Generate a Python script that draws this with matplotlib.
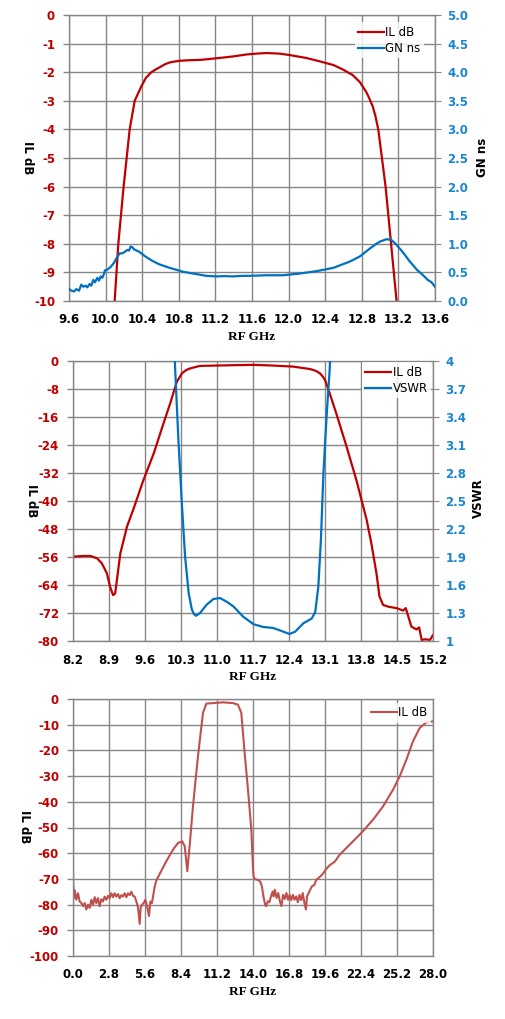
import matplotlib
matplotlib.use("Agg")
import matplotlib.pyplot as plt

# ---------------- data: chart 1 (IL dB and GN ns) ----------------
f1_il = [10.08, 10.099, 10.139, 10.197, 10.263, 10.318, 10.39, 10.44, 10.50, 10.55, 10.59,
         10.65, 10.70, 10.75, 10.81, 10.92, 11.03, 11.10, 11.25, 11.39, 11.54, 11.65,
         11.76, 11.90, 12.01, 12.19, 12.34, 12.49, 12.59, 12.70, 12.78, 12.85, 12.88,
         12.92, 12.95, 12.98, 13.02, 13.06, 13.09, 13.12, 13.15, 13.18, 13.20]
il1 = [-10.6, -10.0, -8.0, -6.0, -4.0, -3.0, -2.5, -2.2, -2.0, -1.9, -1.83,
       -1.72, -1.66, -1.63, -1.6, -1.58, -1.57, -1.55, -1.5, -1.45, -1.38, -1.35,
       -1.33, -1.35, -1.4, -1.5, -1.62, -1.75, -1.9, -2.1, -2.35, -2.7, -2.9,
       -3.2, -3.55, -4.0, -5.0, -6.0, -7.0, -8.0, -9.0, -10.0, -10.6]
f1_gn = [9.600, 9.629, 9.655, 9.680, 9.709, 9.735, 9.757, 9.782, 9.800, 9.826, 9.844,
         9.866, 9.884, 9.910, 9.928, 9.946, 9.964, 9.983, 9.993, 10.019, 10.055, 10.092,
         10.128, 10.154, 10.183, 10.212, 10.238, 10.256, 10.274, 10.292, 10.310, 10.365,
         10.438, 10.511, 10.584, 10.693, 10.85, 11.03, 11.10, 11.21, 11.30, 11.39, 11.50,
         11.57, 11.76, 11.94, 12.12, 12.30, 12.49, 12.67, 12.78, 12.89, 12.95, 13.00,
         13.07, 13.12, 13.17, 13.25, 13.32, 13.40, 13.47, 13.52, 13.56, 13.60]
gn1 = [0.208, 0.179, 0.167, 0.208, 0.179, 0.286, 0.250, 0.268, 0.238, 0.298, 0.268,
       0.369, 0.327, 0.405, 0.357, 0.429, 0.405, 0.476, 0.536, 0.548, 0.595, 0.667,
       0.774, 0.833, 0.833, 0.863, 0.893, 0.881, 0.952, 0.940, 0.905, 0.863,
       0.774, 0.702, 0.643, 0.583, 0.51, 0.46, 0.44, 0.43, 0.435, 0.43, 0.44,
       0.44, 0.45, 0.45, 0.48, 0.52, 0.58, 0.69, 0.78, 0.92, 0.99, 1.04,
       1.08, 1.07, 1.00, 0.85, 0.70, 0.55, 0.45, 0.37, 0.33, 0.25]
x1_ticks = [9.6, 10.0, 10.4, 10.8, 11.2, 11.6, 12.0, 12.4, 12.8, 13.2, 13.6]
y1_ticks = [0, -1, -2, -3, -4, -5, -6, -7, -8, -9, -10]
y1r_ticks = [0.0, 0.5, 1.0, 1.5, 2.0, 2.5, 3.0, 3.5, 4.0, 4.5, 5.0]

# ---------------- data: chart 2 (IL dB and VSWR) ----------------
f2_il = [8.2, 8.41, 8.54, 8.67, 8.76, 8.86, 8.92, 8.98, 9.02, 9.12, 9.25, 9.38, 9.57,
         9.77, 9.96, 10.09, 10.22, 10.32, 10.40, 10.48, 10.67, 11.32, 11.71, 12.09, 12.48,
         12.81, 12.92, 13.0, 13.05, 13.1, 13.19, 13.32, 13.52, 13.71, 13.91, 14.0, 14.1,
         14.16, 14.23, 14.33, 14.49, 14.62, 14.67, 14.72, 14.78, 14.88, 14.93, 14.98,
         15.05, 15.14, 15.2]
il2 = [-55.9, -55.7, -55.7, -56.4, -57.8, -60.7, -64.5, -66.9, -66.4, -55.0, -47.3,
       -42.1, -34.0, -26.4, -17.8, -12.1, -5.9, -3.5, -2.6, -2.1, -1.4, -1.2, -1.1,
       -1.3, -1.6, -2.3, -2.8, -3.5, -4.3, -5.4, -9.2, -15.0, -24.5, -34.0, -45.4,
       -52.0, -60.6, -67.3, -69.7, -70.2, -70.6, -71.3, -70.6, -73.0, -75.9, -76.7,
       -76.1, -79.7, -79.5, -79.7, -78.3]
f2_vs = [10.16, 10.19, 10.25, 10.32, 10.38, 10.45, 10.51, 10.55, 10.59, 10.67, 10.80,
         10.93, 11.06, 11.19, 11.32, 11.51, 11.71, 11.90, 12.09, 12.29, 12.41, 12.52,
         12.68, 12.84, 12.91, 12.97, 13.02, 13.07, 13.13, 13.19, 13.22]
vswr2 = [4.3, 3.87, 3.15, 2.44, 1.90, 1.51, 1.34, 1.29, 1.27, 1.30, 1.39,
         1.45, 1.46, 1.42, 1.37, 1.26, 1.18, 1.15, 1.14, 1.10, 1.075, 1.10,
         1.19, 1.24, 1.31, 1.58, 2.08, 2.80, 3.40, 3.90, 4.3]
x2_ticks = [8.2, 8.9, 9.6, 10.3, 11.0, 11.7, 12.4, 13.1, 13.8, 14.5, 15.2]
y2_ticks = [0, -8, -16, -24, -32, -40, -48, -56, -64, -72, -80]
y2r_ticks = [1, 1.3, 1.6, 1.9, 2.2, 2.5, 2.8, 3.1, 3.4, 3.7, 4]
y2r_labels = ["1", "1.3", "1.6", "1.9", "2.2", "2.5", "2.8", "3.1", "3.4", "3.7", "4"]

# ---------------- data: chart 3 (wideband IL dB) ----------------
f3 = [0.00, 0.05, 0.13, 0.26, 0.39, 0.52, 0.65, 0.78, 0.91, 1.04, 1.17, 1.30, 1.43,
      1.56, 1.69, 1.81, 1.94, 2.07, 2.20, 2.33, 2.46, 2.59, 2.72, 2.85, 2.98, 3.11,
      3.24, 3.37, 3.50, 3.63, 3.76, 3.89, 4.02, 4.15, 4.28, 4.41, 4.54, 4.67, 4.80,
      4.93, 5.06, 5.19, 5.26, 5.37, 5.50, 5.63, 5.76, 5.91, 6.02, 6.14, 6.22, 6.35,
      6.48, 6.61, 6.74, 7.00, 7.26, 7.78, 8.17, 8.50, 8.69, 8.89, 9.07, 9.33, 9.72,
      10.11, 10.37, 10.89, 11.67, 12.44, 12.83, 13.09, 13.35, 13.61, 13.87, 13.95,
      14.00, 14.05, 14.13, 14.38, 14.56, 14.69, 14.81, 14.94, 15.02, 15.15, 15.27,
      15.40, 15.53, 15.60, 15.70, 15.83, 15.96, 16.09, 16.21, 16.34, 16.47, 16.60,
      16.72, 16.85, 16.98, 17.10, 17.23, 17.36, 17.49, 17.61, 17.74, 17.87, 18.00,
      18.12, 18.20, 18.33, 18.45, 18.58, 18.78, 18.91, 19.09, 19.29, 19.47, 19.73,
      19.98, 20.36, 20.74, 21.52, 22.43, 23.33, 24.11, 24.89, 25.41, 25.93, 26.44,
      26.96, 27.48, 28.0]
il3 = [-68.1, -77.5, -74.4, -78.1, -75.6, -78.8, -79.4, -80.6, -79.4, -81.9, -80.0,
       -81.3, -78.1, -80.0, -77.1, -79.4, -77.5, -80.6, -77.9, -78.8, -76.9, -78.1,
       -76.6, -77.5, -75.6, -77.1, -75.6, -76.9, -75.9, -77.5, -76.3, -76.9, -75.6,
       -77.1, -75.6, -76.3, -75.0, -76.6, -76.9, -78.8, -81.3, -87.5, -81.3, -80.0,
       -79.4, -78.1, -80.6, -84.4, -78.8, -79.4, -76.9, -73.1, -70.6, -69.4, -68.1,
       -65.6, -63.1, -58.6, -56.0, -55.4, -57.3, -67.0, -57.3, -41.8, -22.3, -5.4,
       -1.8, -1.6, -1.3, -1.6, -2.2, -5.4, -21.0, -35.3, -50.8, -60.0, -66.0, -69.1,
       -70.1, -70.4, -71.0, -72.9, -76.8, -80.0, -80.6, -78.7, -79.1, -76.8, -74.9,
       -76.8, -74.2, -77.4, -75.5, -78.7, -80.6, -76.2, -77.8, -75.5, -78.1, -76.2,
       -78.3, -76.2, -78.1, -76.8, -79.1, -76.2, -78.3, -75.5, -79.4, -81.9, -76.8,
       -75.5, -74.2, -72.9, -72.3, -70.4, -69.7, -68.8, -67.8, -65.9, -64.6, -63.3,
       -60.6, -56.7, -52.1, -47.0, -41.8, -35.3, -30.1, -23.6, -16.5, -11.3, -9.1,
       -8.7]
x3_ticks = [0.0, 2.8, 5.6, 8.4, 11.2, 14.0, 16.8, 19.6, 22.4, 25.2, 28.0]
y3_ticks = [0, -10, -20, -30, -40, -50, -60, -70, -80, -90, -100]

# ---------------- style ----------------
RED = "#C00000"
BLUE = "#0070C0"
TICKBLUE = "#1A86D0"
RED3 = "#C0504D"
GRID = "#868686"
W, H = 505, 1019

fig = plt.figure(figsize=(W / 100, H / 100), dpi=100)
fig.patch.set_facecolor("white")


def box(l, t, r, b):
    return [l / W, 1 - b / H, (r - l) / W, (b - t) / H]


def fig_label(text, x, y, rot):
    fig.text(x / W, 1 - y / H, text, rotation=rot, ha="center", va="center",
             fontsize=8.5, fontweight="bold", color="black")


def style_axes(ax, xticks, xlim, yticks, ylim):
    ax.set_xlim(*xlim)
    ax.set_ylim(*ylim)
    ax.set_xticks(xticks)
    ax.set_xticklabels([f"{v:.1f}" for v in xticks])
    ax.set_yticks(yticks)
    ax.set_yticklabels([str(v) for v in yticks])
    ax.grid(True, color=GRID, linewidth=1.0)
    ax.set_axisbelow(True)
    for s in ax.spines.values():
        s.set_color(GRID)
        s.set_linewidth(1.0)
    ax.tick_params(axis="x", length=0, pad=9, labelsize=8.5, colors="black")
    ax.tick_params(axis="y", length=4, width=1, color=GRID, pad=6,
                   labelsize=8.5, labelcolor=RED)
    for lab in ax.get_xticklabels() + ax.get_yticklabels():
        lab.set_fontweight("bold")
    ax.set_xlabel("RF GHz", fontsize=9.5, fontweight="bold",
                  family="Liberation Serif", labelpad=3)


def style_right(ax, ticks, labels, ylim):
    ax.set_ylim(*ylim)
    ax.set_yticks(ticks)
    ax.set_yticklabels(labels)
    ax.tick_params(axis="y", length=4, color=GRID, labelsize=8.5,
                   labelcolor=TICKBLUE, pad=5)
    for lab in ax.get_yticklabels():
        lab.set_fontweight("bold")
    for s in ax.spines.values():
        s.set_visible(False)


def legend(ax, handles, anchor):
    lg = ax.legend(handles=handles, loc="upper right", bbox_to_anchor=anchor,
                   frameon=True, fontsize=8.5, handlelength=2.2, handletextpad=0.1,
                   borderpad=0.3, labelspacing=0.25, fancybox=False, borderaxespad=0)
    lg.get_frame().set_edgecolor("white")
    lg.get_frame().set_linewidth(0)
    return lg


# ---------- chart 1 ----------
ax1 = fig.add_axes(box(69, 15, 435, 301))
l1, = ax1.plot(f1_il, il1, color=RED, linewidth=1.6, label="IL dB")
style_axes(ax1, x1_ticks, (9.6, 13.6), y1_ticks, (-10, 0))
ax1r = ax1.twinx()
l2, = ax1r.plot(f1_gn, gn1, color=BLUE, linewidth=1.6, label="GN ns")
style_right(ax1r, y1r_ticks, [f"{v:.1f}" for v in y1r_ticks], (0, 5))
legend(ax1r, [l1, l2], (0.97, 0.975))
fig_label("IL dB", 27, 158, 270)
fig_label("GN ns", 483, 157, 90)

# ---------- chart 2 ----------
ax2 = fig.add_axes(box(73, 361, 433, 641))
m1, = ax2.plot(f2_il, il2, color=RED, linewidth=1.6, label="IL dB")
style_axes(ax2, x2_ticks, (8.2, 15.2), y2_ticks, (-80, 0))
ax2r = ax2.twinx()
m2, = ax2r.plot(f2_vs, vswr2, color=BLUE, linewidth=1.6, label="VSWR")
style_right(ax2r, y2r_ticks, y2r_labels, (1, 4))
legend(ax2r, [m1, m2], (0.995, 0.995))
fig_label("IL dB", 31, 501, 270)
fig_label("VSWR", 478, 498, 90)

# ---------- chart 3 ----------
ax3 = fig.add_axes(box(73, 699, 433, 956))
n1, = ax3.plot(f3, il3, color=RED3, linewidth=1.5, label="IL dB")
style_axes(ax3, x3_ticks, (0, 28), y3_ticks, (-100, 0))
legend(ax3, [n1], (0.995, 0.985))
fig_label("IL dB", 24, 827, 270)

fig.savefig("out.png", dpi=100, facecolor="white")
